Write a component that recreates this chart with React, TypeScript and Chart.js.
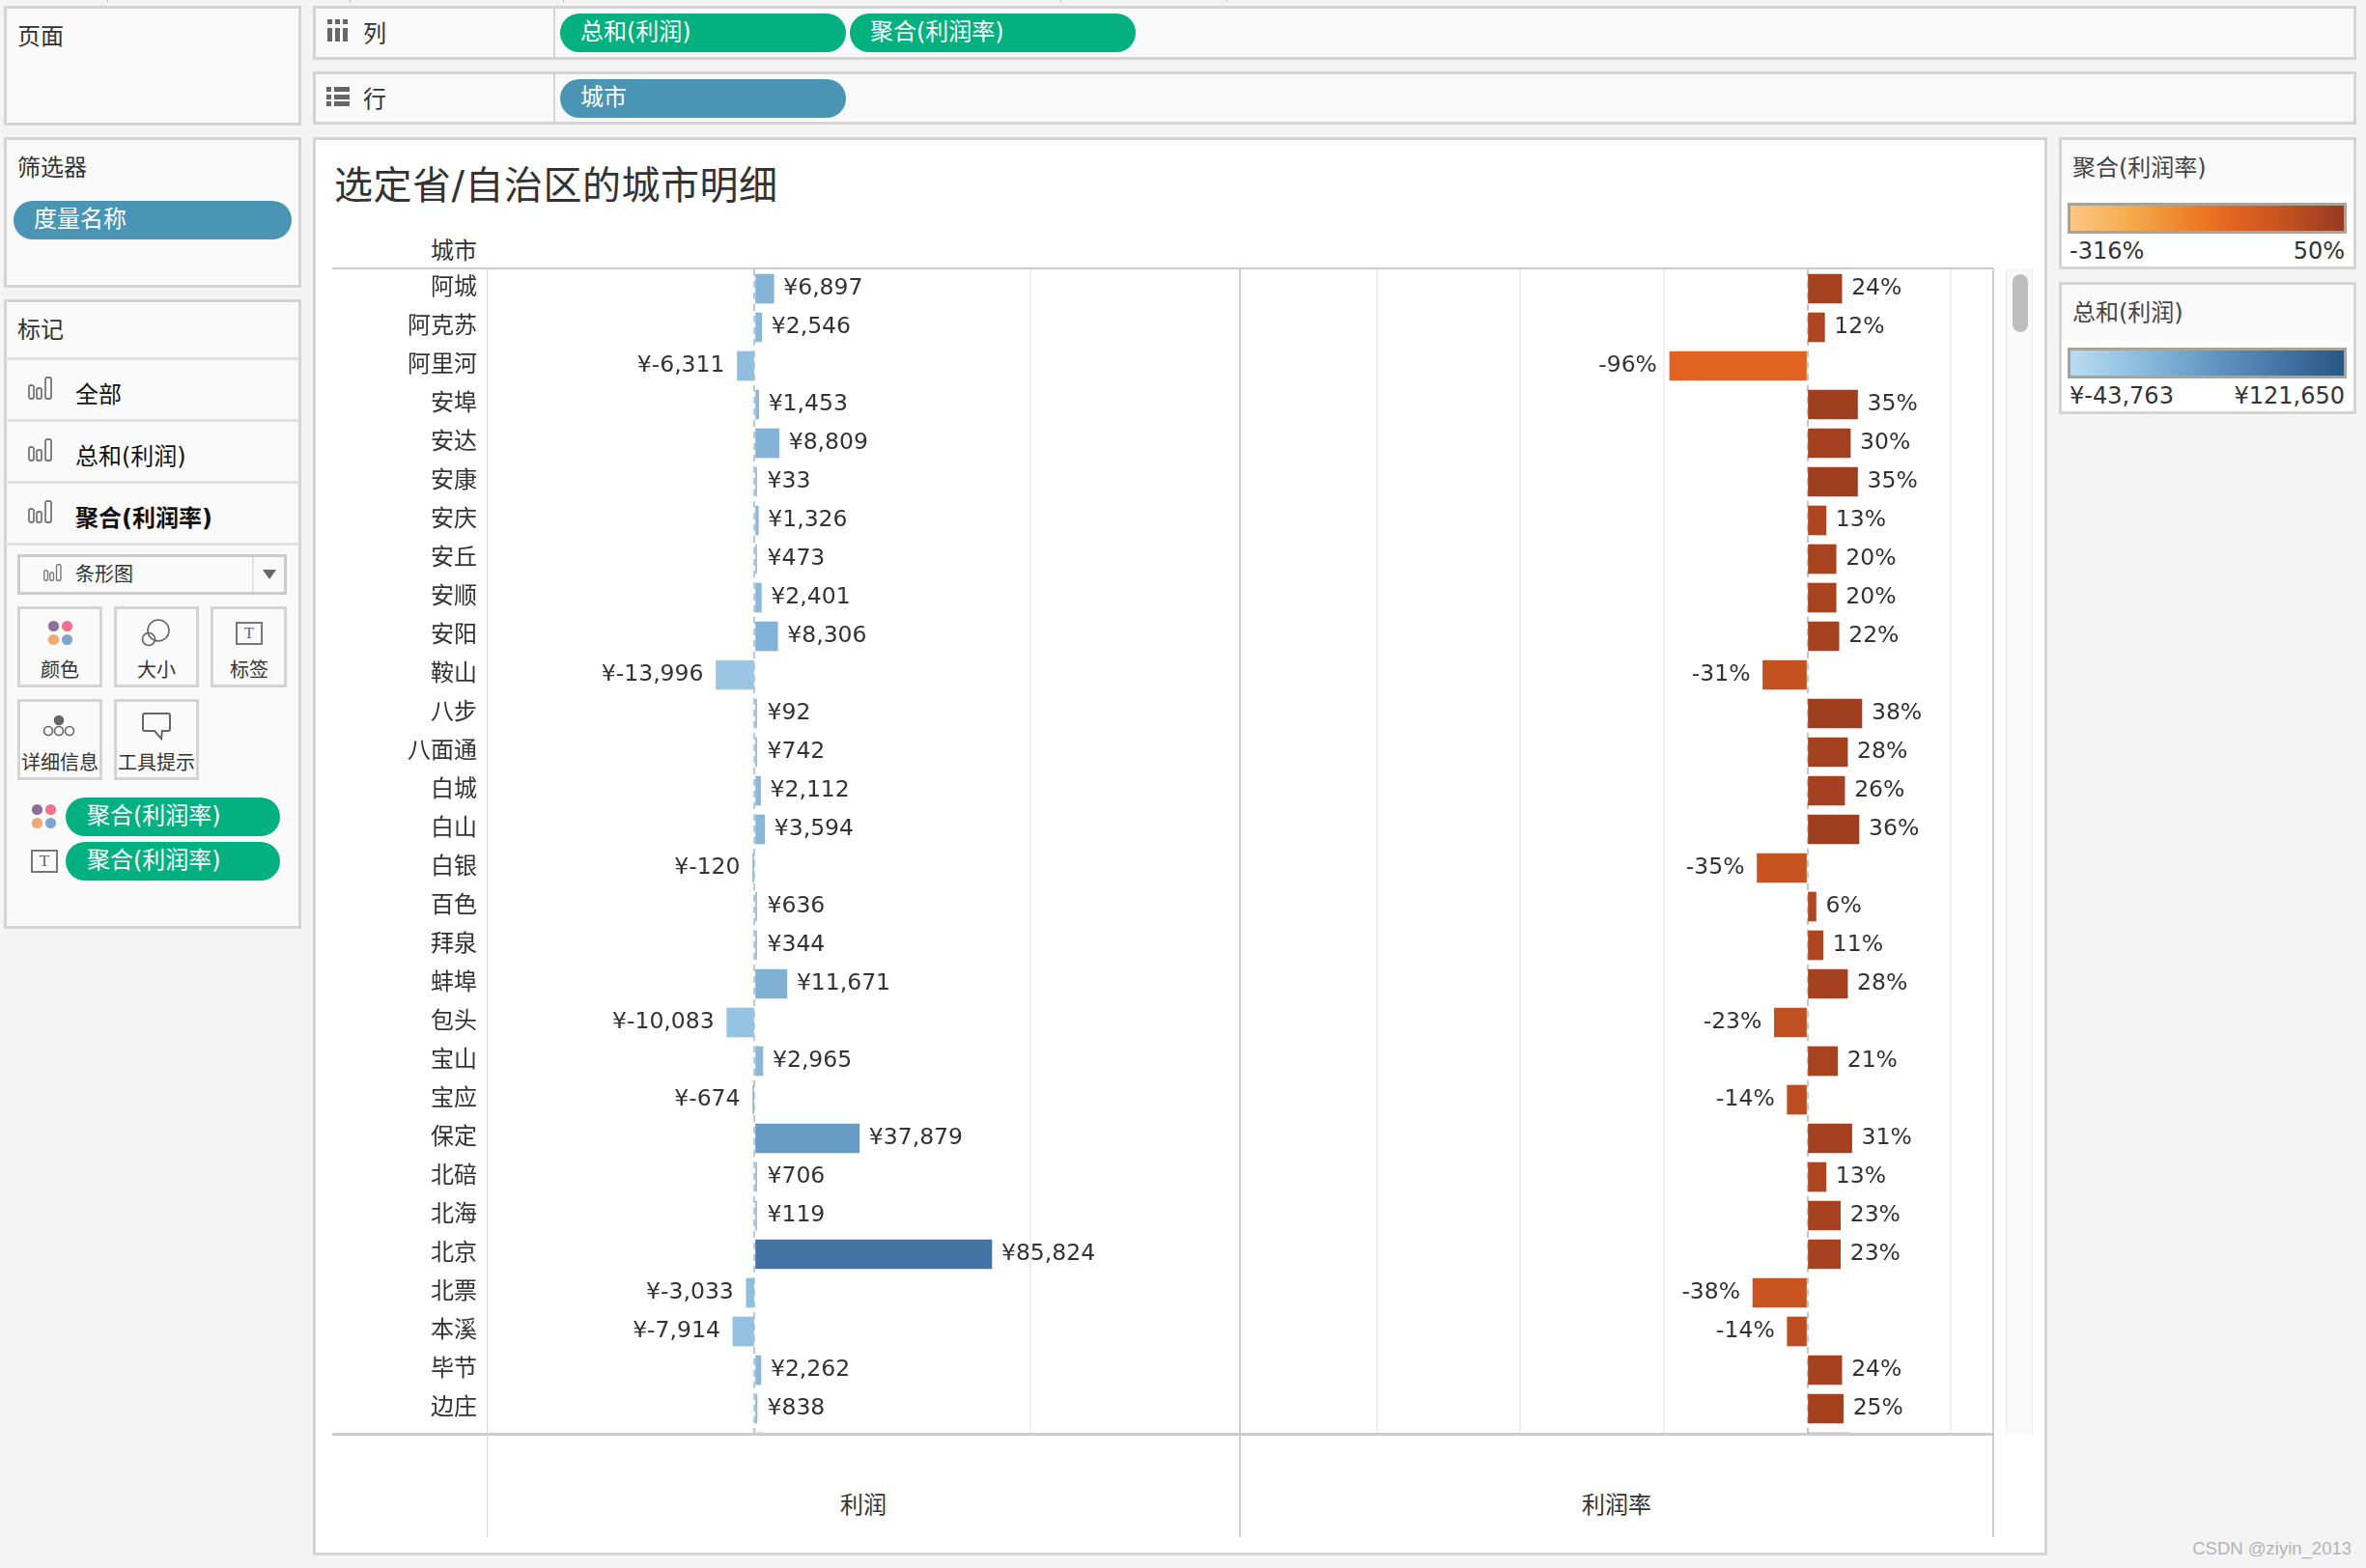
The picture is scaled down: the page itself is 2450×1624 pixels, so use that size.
import React, { useEffect, useRef } from 'react';
import Chart from 'chart.js/auto';

const cities = ['阿城', '阿克苏', '阿里河', '安埠', '安达', '安康', '安庆', '安丘', '安顺', '安阳', '鞍山', '八步', '八面通', '白城', '白山', '白银', '百色', '拜泉', '蚌埠', '包头', '宝山', '宝应', '保定', '北碚', '北海', '北京', '北票', '本溪', '毕节', '边庄', '宾州'];
const profit = [6897, 2546, -6311, 1453, 8809, 33, 1326, 473, 2401, 8306, -13996, 92, 742, 2112, 3594, -120, 636, 344, 11671, -10083, 2965, -674, 37879, 706, 119, 85824, -3033, -7914, 2262, 838, 2900];
const profitRate = [24, 12, -96, 35, 30, 35, 13, 20, 20, 22, -31, 38, 28, 26, 36, -35, 6, 11, 28, -23, 21, -14, 31, 13, 23, 23, -38, -14, 24, 25, 29];
const profitTicks = [0, 100000];
const rateTicks = [-300, -200, -100, 0, 100];

const FONT = '"DejaVu Sans", "Noto Sans CJK SC", sans-serif';
const CJK = '"Noto Sans CJK SC", sans-serif';
const LINE = '#D4D4D4';
const TEXT = '#333333';
const GREEN = '#02B17F';
const BLUE = '#4A95B4';

const blueStops = ['#B9DDF1', '#96C3E3', '#659AC5', '#4270A0', '#2A5783'];
const blueAt = [0, 0.2, 0.5, 0.8, 1];
const orangeStops = ['#FFC685', '#F5AE50', '#EE7722', '#E26321', '#C85420', '#983A20'];
const orangeAt = [0, 0.2, 0.48, 0.6, 0.76, 1];

function rampColor(stops: string[], at: number[], t: number) {
  let i = 0;
  while (i < at.length - 2 && t > at[i + 1]) i++;
  const k = Math.min(1, Math.max(0, (t - at[i]) / (at[i + 1] - at[i])));
  const ch = (s: string, p: number) => parseInt(s.slice(p, p + 2), 16);
  const mix = (p: number) => Math.round(ch(stops[i], p) + (ch(stops[i + 1], p) - ch(stops[i], p)) * k);
  return `rgb(${mix(1)},${mix(3)},${mix(5)})`;
}

const cssRamp = (stops: string[], at: number[]) =>
  `linear-gradient(to right, ${stops.map((s, i) => `${s} ${at[i] * 100}%`).join(', ')})`;

const profitColor = (v: number) => rampColor(blueStops, blueAt, (v + 43763) / (121650 + 43763));
const rateColor = (v: number) => rampColor(orangeStops, orangeAt, (v + 316) / 366);

const money = (v: number) => '¥' + (v < 0 ? '-' : '') + Math.abs(v).toLocaleString('en-US');
const percent = (v: number) => `${v}%`;

// value next to the end of each bar
function barLabels(format: (v: number) => string, minOffset: number) {
  return {
    id: 'barLabels',
    afterDatasetsDraw(chart: any) {
      const { ctx } = chart;
      const zero = chart.scales.x.getPixelForValue(0);
      const data = chart.data.datasets[0].data as number[];
      ctx.save();
      ctx.font = `23.5px ${FONT}`;
      ctx.fillStyle = TEXT;
      ctx.textBaseline = 'middle';
      chart.getDatasetMeta(0).data.forEach((bar: any, i: number) => {
        const v = data[i];
        if (v < 0) {
          ctx.textAlign = 'right';
          ctx.fillText(format(v), Math.min(bar.x, zero - 2) - 13, bar.y);
        } else {
          ctx.textAlign = 'left';
          ctx.fillText(format(v), Math.max(bar.x + 10, zero + minOffset), bar.y);
        }
      });
      ctx.restore();
    },
  };
}

function xScale(min: number, max: number, tickValues: number[]) {
  return {
    min,
    max,
    grid: {
      drawTicks: false,
      lineWidth: 2,
      color: (c: any) => (c.tick.value === 0 ? '#C6C6C6' : '#F0F0F0'),
    },
    border: { display: false, dash: (c: any) => (c.tick.value === 0 ? [7, 5] : []) },
    ticks: { display: false, autoSkip: false },
    afterBuildTicks: (s: any) => {
      s.ticks = tickValues.map((value) => ({ value }));
    },
  };
}

function BarPanel(props: {
  values: number[];
  colorFor: (v: number) => string;
  format: (v: number) => string;
  min: number;
  max: number;
  tickValues: number[];
  minOffset: number;
  showCities: boolean;
  left: number;
  width: number;
}) {
  const ref = useRef<HTMLCanvasElement>(null);

  useEffect(() => {
    if (!ref.current) return;
    const chart = new Chart(ref.current, {
      type: 'bar',
      data: {
        labels: cities,
        datasets: [
          {
            data: props.values,
            backgroundColor: props.values.map(props.colorFor),
            barThickness: 30,
            minBarLength: 2,
          },
        ],
      },
      options: {
        indexAxis: 'y',
        responsive: false,
        animation: false,
        layout: { padding: 0 },
        plugins: { legend: { display: false }, tooltip: { enabled: false } },
        scales: {
          x: xScale(props.min, props.max, props.tickValues),
          y: {
            display: props.showCities,
            grid: { display: false },
            border: { display: false },
            afterFit: (s: any) => {
              // rows must fill the canvas exactly, 40px each
              s.width = props.showCities ? 160 : 0;
              s.paddingTop = 0;
              s.paddingBottom = 0;
            },
            ticks: {
              autoSkip: false,
              padding: 2,
              labelOffset: -3,
              color: TEXT,
              font: { family: CJK, size: 24 },
            },
          },
        },
      },
      plugins: [barLabels(props.format, props.minOffset)],
    } as any);
    return () => chart.destroy();
  }, []);

  return (
    <div style={{ position: 'absolute', left: props.left, top: 279, width: props.width, height: 1207, overflow: 'hidden' }}>
      <canvas ref={ref} width={props.width} height={cities.length * 40} style={{ display: 'block' }} />
    </div>
  );
}

function Box(p: { x0: number; y0: number; x1: number; y1: number; bg?: string; line?: string; w?: number; r?: number; children?: React.ReactNode }) {
  return (
    <div
      style={{
        position: 'absolute',
        left: p.x0,
        top: p.y0,
        width: p.x1 - p.x0,
        height: p.y1 - p.y0,
        boxSizing: 'border-box',
        background: p.bg,
        border: p.line ? `${p.w ?? 3}px solid ${p.line}` : undefined,
        borderRadius: p.r,
      }}
    >
      {p.children}
    </div>
  );
}

function Txt(p: { x: number; cy: number; size?: number; color?: string; right?: boolean; center?: boolean; bold?: boolean; font?: string; spacing?: number; children: React.ReactNode }) {
  const tx = p.right ? '-100%' : p.center ? '-50%' : '0';
  return (
    <div
      style={{
        position: 'absolute',
        left: p.x,
        top: p.cy + 1,
        transform: `translate(${tx}, -50%)`,
        font: `${p.bold ? 700 : 400} ${p.size ?? 24}px ${p.font ?? FONT}`,
        letterSpacing: p.spacing,
        color: p.color ?? TEXT,
        whiteSpace: 'nowrap',
        lineHeight: 1.2,
      }}
    >
      {p.children}
    </div>
  );
}

function Pill(p: { x0: number; y0: number; x1: number; y1: number; bg: string; text: string; tx: number }) {
  return (
    <>
      <Box x0={p.x0} y0={p.y0} x1={p.x1} y1={p.y1} bg={p.bg} r={20} />
      <Txt x={p.tx} cy={(p.y0 + p.y1) / 2 - 2} color="#FFFFFF">
        {p.text}
      </Txt>
    </>
  );
}

function BarsIcon({ x, y, s = 1 }: { x: number; y: number; s?: number }) {
  return (
    <svg style={{ position: 'absolute', left: x, top: y }} width={25 * s} height={25 * s} viewBox="0 0 25 25" fill="none" stroke="#777" strokeWidth="1.8">
      <rect x="1" y="9" width="5" height="14" rx="2" />
      <rect x="9" y="12" width="5" height="11" rx="2" />
      <rect x="18" y="1" width="6" height="22" rx="2" />
    </svg>
  );
}

function Dots({ x, y }: { x: number; y: number }) {
  return (
    <svg style={{ position: 'absolute', left: x, top: y }} width="28" height="28" viewBox="0 0 28 28">
      <circle cx="6.5" cy="6.5" r="5.6" fill="#8A7199" />
      <circle cx="20.5" cy="6.5" r="5.6" fill="#F6718A" />
      <circle cx="6.5" cy="20.5" r="5.6" fill="#F0A875" />
      <circle cx="20.5" cy="20.5" r="5.6" fill="#7EA6CE" />
    </svg>
  );
}

function TIcon({ x, y }: { x: number; y: number }) {
  return (
    <div
      style={{
        position: 'absolute',
        left: x,
        top: y,
        width: 28,
        height: 24,
        boxSizing: 'border-box',
        border: '2px solid #777',
        font: '17px "Liberation Serif", serif',
        color: '#666',
        textAlign: 'center',
        lineHeight: '20px',
      }}
    >
      T
    </div>
  );
}

function Legend(p: { y0: number; title: string; bg: string; low: string; high: string }) {
  const y = p.y0;
  return (
    <Box x0={2132} y0={y} x1={2440} y1={y + 137} bg="#FFFFFF" line={LINE}>
      <Box x0={0} y0={0} x1={302} y1={58} bg="#FAFAFA" />
      <Txt x={11} cy={28} color="#444">
        {p.title}
      </Txt>
      <div style={{ position: 'absolute', left: 6, top: 65, width: 289, height: 32, boxSizing: 'border-box', border: '3px solid #A8A498', background: p.bg }} />
      <Txt x={8} cy={114}>
        {p.low}
      </Txt>
      <Txt x={293} cy={114} right>
        {p.high}
      </Txt>
    </Box>
  );
}

function Rule({ x, y, w, h, color = LINE }: { x: number; y: number; w: number; h: number; color?: string }) {
  return <div style={{ position: 'absolute', left: x, top: y, width: w, height: h, background: color }} />;
}

export default function App() {
  return (
    <div style={{ position: 'absolute', left: 0, top: 0, width: 2450, height: 1624, overflow: 'hidden', background: '#F4F4F4' }}>
      {[111, 362, 583, 1098, 1270].map((x) => (
        <Rule key={x} x={x} y={0} w={1} h={2} color="#BBBBBB" />
      ))}

      {/* left shelves */}
      <Box x0={4} y0={6} x1={312} y1={130} bg="#FAFAFA" line={LINE} />
      <Txt x={18} cy={37}>页面</Txt>

      <Box x0={4} y0={142} x1={312} y1={298} bg="#FAFAFA" line={LINE} />
      <Txt x={18} cy={173}>筛选器</Txt>
      <Pill x0={14} y0={208} x1={302} y1={248} bg={BLUE} text="度量名称" tx={35} />

      <Box x0={4} y0={310} x1={312} y1={962} bg="#FAFAFA" line={LINE} />
      <Txt x={18} cy={341}>标记</Txt>
      <Rule x={6} y={370} w={304} h={3} color="#E2E2E2" />
      <Rule x={6} y={434} w={304} h={3} color="#E2E2E2" />
      <Rule x={6} y={498} w={304} h={3} color="#E2E2E2" />
      <Rule x={6} y={562} w={304} h={3} color="#E2E2E2" />
      <BarsIcon x={29} y={390} />
      <Txt x={78} cy={408} color="#111">全部</Txt>
      <BarsIcon x={29} y={454} />
      <Txt x={78} cy={472} color="#111">总和(利润)</Txt>
      <BarsIcon x={29} y={518} />
      <Txt x={78} cy={536} color="#111" bold>聚合(利润率)</Txt>

      <Box x0={18} y0={574} x1={297} y1={616} bg="#FAFAFA" line="#CCCCCC" />
      <Rule x={261} y={577} w={2} h={36} color="#E2E2E2" />
      <BarsIcon x={45} y={584} s={0.75} />
      <Txt x={78} cy={594} size={20}>条形图</Txt>
      <svg style={{ position: 'absolute', left: 272, top: 590 }} width="14" height="10">
        <path d="M0 0 H14 L7 10 Z" fill="#666" />
      </svg>

      <Box x0={18} y0={628} x1={106} y1={712} line={LINE} />
      <Box x0={118} y0={628} x1={206} y1={712} line={LINE} />
      <Box x0={218} y0={628} x1={297} y1={712} line={LINE} />
      <Box x0={18} y0={724} x1={106} y1={808} line={LINE} />
      <Box x0={118} y0={724} x1={206} y1={808} line={LINE} />
      <Dots x={49} y={642} />
      <svg style={{ position: 'absolute', left: 146, top: 640 }} width="32" height="30" fill="none" stroke="#666" strokeWidth="1.6">
        <circle cx="18" cy="13" r="11" />
        <circle cx="8" cy="22" r="6.5" />
      </svg>
      <TIcon x={244} y={644} />
      <svg style={{ position: 'absolute', left: 44, top: 738 }} width="36" height="26" fill="none" stroke="#666" strokeWidth="1.6">
        <circle cx="17" cy="8" r="4.5" fill="#666" />
        <circle cx="6" cy="19" r="4.5" />
        <circle cx="17" cy="19" r="4.5" />
        <circle cx="28" cy="19" r="4.5" />
      </svg>
      <svg style={{ position: 'absolute', left: 146, top: 737 }} width="32" height="30" fill="none" stroke="#666" strokeWidth="2">
        <path d="M4 2 H28 Q30 2 30 4 V18 Q30 20 28 20 H22 L21 28 L14 20 H4 Q2 20 2 18 V4 Q2 2 4 2 Z" />
      </svg>
      <Txt x={62} cy={693} size={20} center>颜色</Txt>
      <Txt x={162} cy={693} size={20} center>大小</Txt>
      <Txt x={258} cy={693} size={20} center>标签</Txt>
      <Txt x={62} cy={789} size={20} center>详细信息</Txt>
      <Txt x={162} cy={789} size={20} center>工具提示</Txt>

      <Dots x={32} y={832} />
      <Pill x0={68} y0={826} x1={290} y1={866} bg={GREEN} text="聚合(利润率)" tx={90} />
      <TIcon x={32} y={880} />
      <Pill x0={68} y0={872} x1={290} y1={912} bg={GREEN} text="聚合(利润率)" tx={90} />

      {/* rows and columns shelves */}
      <Box x0={324} y0={6} x1={2440} y1={62} bg="#FAFAFA" line={LINE} />
      <Rule x={573} y={8} w={2} h={52} />
      {[339, 347, 355].map((x) => (
        <React.Fragment key={x}>
          <Rule x={x} y={20} w={5} h={5} color="#666" />
          <Rule x={x} y={29} w={5} h={14} color="#666" />
        </React.Fragment>
      ))}
      <Txt x={376} cy={34}>列</Txt>
      <Pill x0={580} y0={14} x1={876} y1={54} bg={GREEN} text="总和(利润)" tx={601} />
      <Pill x0={880} y0={14} x1={1176} y1={54} bg={GREEN} text="聚合(利润率)" tx={901} />

      <Box x0={324} y0={74} x1={2440} y1={129} bg="#FAFAFA" line={LINE} />
      <Rule x={573} y={76} w={2} h={51} />
      {[90, 98, 105].map((y) => (
        <React.Fragment key={y}>
          <Rule x={338} y={y} w={5} h={5} color="#666" />
          <Rule x={346} y={y} w={16} h={5} color="#666" />
        </React.Fragment>
      ))}
      <Txt x={376} cy={102}>行</Txt>
      <Pill x0={580} y0={82} x1={876} y1={122} bg={BLUE} text="城市" tx={601} />

      {/* worksheet card */}
      <Box x0={324} y0={142} x1={2120} y1={1611} bg="#FFFFFF" line={LINE} />
      <Txt x={346} cy={191} size={40} spacing={0.5}>选定省/自治区的城市明细</Txt>
      <Txt x={494} cy={259} right>城市</Txt>

      <BarPanel values={profit} colorFor={profitColor} format={money} min={-97028} max={175700} tickValues={profitTicks} minOffset={13} showCities left={344} width={940} />
      <BarPanel values={profitRate} colorFor={rateColor} format={percent} min={-395.6} max={129.6} tickValues={rateTicks} minOffset={10} showCities={false} left={1284} width={780} />

      <Rule x={344} y={277} w={1720} h={2} color="#CCCCCC" />
      <Rule x={344} y={1484} w={1721} h={3} color="#CCCCCC" />
      <Rule x={504} y={278} w={1} h={1314} color="#D8D8D8" />
      <Rule x={1283} y={278} w={2} h={1314} color="#CCCCCC" />
      <Rule x={2063} y={278} w={2} h={1314} color="#CCCCCC" />
      <Txt x={894} cy={1558} center>利润</Txt>
      <Txt x={1674} cy={1558} center>利润率</Txt>

      {/* scrollbar */}
      <Box x0={2077} y0={278} x1={2105} y1={1485} bg="#F9F9F9" />
      <Rule x={2077} y={278} w={1} h={1207} color="#EEEEEE" />
      <Rule x={2104} y={278} w={1} h={1207} color="#EEEEEE" />
      <Box x0={2084} y0={284} x1={2100} y1={344} bg="#BEBEBE" r={8} />

      <Legend y0={142} title="聚合(利润率)" bg={cssRamp(orangeStops, orangeAt)} low="-316%" high="50%" />
      <Legend y0={292} title="总和(利润)" bg={cssRamp(blueStops, blueAt)} low="¥-43,763" high="¥121,650" />

      <Txt x={2435} cy={1603} size={18.5} right color="#B4B4B4" font='"Liberation Sans", sans-serif'>
        CSDN @ziyin_2013
      </Txt>
    </div>
  );
}
